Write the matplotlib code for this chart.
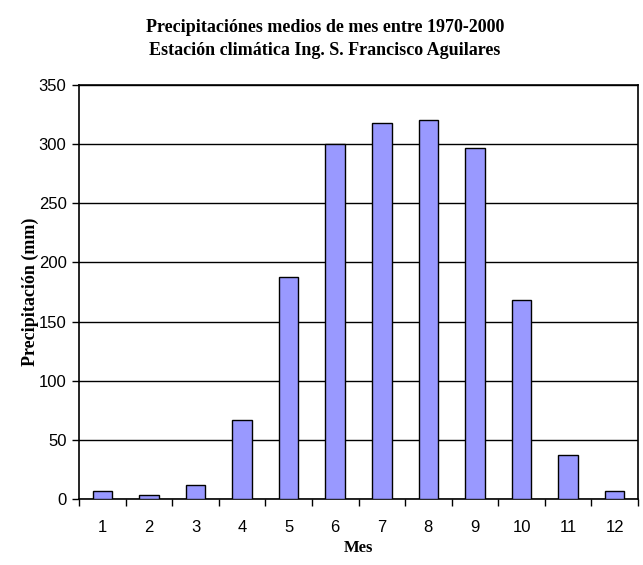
import matplotlib.pyplot as plt
import numpy as np

# Monthly mean precipitation (mm), 1970-2000
meses = [1, 2, 3, 4, 5, 6, 7, 8, 9, 10, 11, 12]
precip = [7, 3, 12, 67, 188, 300, 318, 320, 297, 168, 37, 7]
yticks = [0, 50, 100, 150, 200, 250, 300, 350]

fig = plt.figure(figsize=(6.43, 5.65), dpi=100)
ax = fig.add_axes([0.1229, 0.1168, 0.8693, 0.7328])

ax.bar(meses, precip, width=0.42, color='#9999FF', edgecolor='black', linewidth=1.0, zorder=3)

ax.set_xlim(0.5, 12.5)
ax.set_ylim(0, 350)
ax.set_yticks(yticks)
ax.yaxis.grid(True, color='black', linewidth=1.0, zorder=0)

ax.set_xticks(meses)
ax.set_xticks(np.arange(0.5, 13, 1), minor=True)
ax.tick_params(axis='x', which='major', length=0, pad=15, labelsize=12)
ax.tick_params(axis='x', which='minor', length=5, width=1, direction='out')
ax.tick_params(axis='y', length=5, width=1, direction='out', labelsize=12, pad=4)
for lab in ax.get_xticklabels() + ax.get_yticklabels():
    lab.set_fontfamily('Liberation Sans')

for s in ax.spines.values():
    s.set_linewidth(1.2)

serif = dict(fontfamily='Liberation Serif', fontweight='bold')
fig.text(0.557, 0.030, 'Mes', ha='center', va='center', fontsize=12, **serif)
fig.text(0.047, 0.483, 'Precipitación (mm)', ha='center', va='center', rotation=90, fontsize=13, **serif)

fig.text(0.505, 0.952, 'Precipitaciónes medios de mes entre 1970-2000',
         ha='center', va='center', fontsize=13, **serif)
fig.text(0.505, 0.910, 'Estación climática Ing. S. Francisco Aguilares',
         ha='center', va='center', fontsize=13, **serif)

fig.savefig('out.png', dpi=100)
